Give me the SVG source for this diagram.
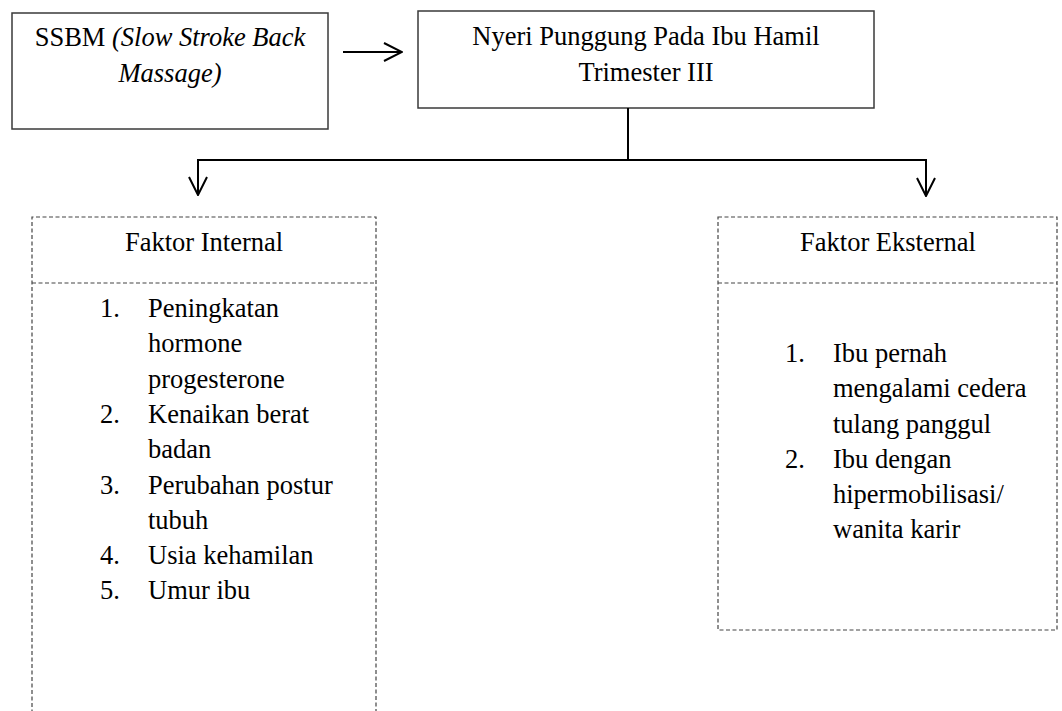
<svg xmlns="http://www.w3.org/2000/svg" width="1062" height="711" viewBox="0 0 1062 711" font-family="Liberation Serif, Times New Roman, serif" font-size="26.5">
<style>
  .c { text-anchor: middle; }
  .solid { fill: #fff; stroke: #3a3a3a; stroke-width: 1.5; }
  .dash { fill: none; stroke: #444; stroke-width: 1.2; stroke-dasharray: 4 2.5; }
  .conn { fill: none; stroke: #000; stroke-width: 2; }
</style>
<defs>
  <marker id="arr" viewBox="-1 -10 20 20" refX="18" refY="0" markerWidth="20" markerHeight="20" markerUnits="userSpaceOnUse" orient="auto">
    <path d="M0,-9 L18,0 L0,9" fill="none" stroke="#000" stroke-width="2"/>
  </marker>
</defs>
<rect width="1062" height="711" fill="#fff"/>

<g id="node-ssbm">
  <rect class="solid" x="12" y="13" width="316" height="116"/>
  <text class="c" x="170" y="46">SSBM <tspan font-style="italic">(Slow Stroke Back</tspan></text>
  <text class="c" x="170" y="82" font-style="italic">Massage)</text>
</g>

<g id="node-nyeri">
  <rect class="solid" x="418" y="11" width="456" height="97"/>
  <text class="c" x="646" y="45">Nyeri Punggung Pada Ibu Hamil</text>
  <text class="c" x="646" y="81">Trimester III</text>
</g>

<g id="node-internal">
  <path class="dash" d="M32,720 L32,217 L376,217 L376,720"/>
  <line class="dash" x1="32" y1="283" x2="376" y2="283"/>
  <text class="c" x="204" y="251">Faktor Internal</text>
  <text x="100" y="317">1.</text><text x="148" y="317">Peningkatan</text>
  <text x="148" y="352">hormone</text>
  <text x="148" y="388">progesterone</text>
  <text x="100" y="423">2.</text><text x="148" y="423">Kenaikan berat</text>
  <text x="148" y="458">badan</text>
  <text x="100" y="494">3.</text><text x="148" y="494">Perubahan postur</text>
  <text x="148" y="529">tubuh</text>
  <text x="100" y="564">4.</text><text x="148" y="564">Usia kehamilan</text>
  <text x="100" y="599">5.</text><text x="148" y="599">Umur ibu</text>
</g>

<g id="node-eksternal">
  <rect class="dash" x="718" y="217" width="339" height="413"/>
  <line class="dash" x1="718" y1="283" x2="1057" y2="283"/>
  <text class="c" x="888" y="251">Faktor Eksternal</text>
  <text x="785" y="362">1.</text><text x="833" y="362">Ibu pernah</text>
  <text x="833" y="397">mengalami cedera</text>
  <text x="833" y="433">tulang panggul</text>
  <text x="785" y="468">2.</text><text x="833" y="468">Ibu dengan</text>
  <text x="833" y="503">hipermobilisasi/</text>
  <text x="833" y="538">wanita karir</text>
</g>

<g id="connectors">
  <line class="conn" x1="343" y1="52" x2="402" y2="52" marker-end="url(#arr)"/>
  <line class="conn" x1="628" y1="108" x2="628" y2="160"/>
  <line class="conn" x1="197" y1="160" x2="927" y2="160"/>
  <line class="conn" x1="198" y1="160" x2="198" y2="195" marker-end="url(#arr)"/>
  <line class="conn" x1="926" y1="160" x2="926" y2="196" marker-end="url(#arr)"/>
</g>
</svg>
